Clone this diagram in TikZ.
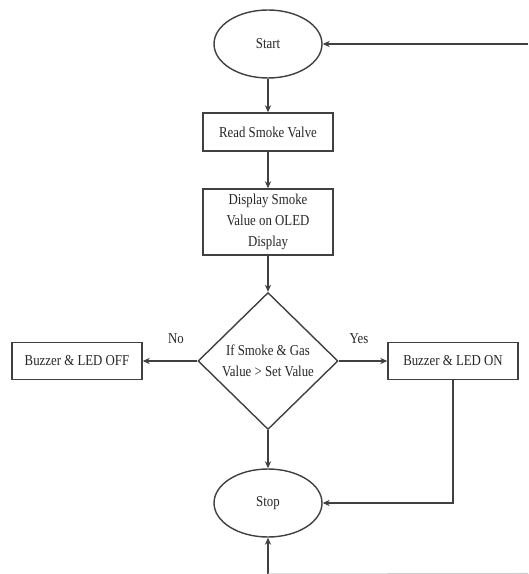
\documentclass[tikz,border=0pt]{standalone}
\usepackage{fontspec}
\setmainfont{Liberation Serif}[FakeStretch=0.85]
\usetikzlibrary{shapes.geometric,arrows.meta}
\tikzset{
  every node/.style={font=\fontsize{8.6}{12}\selectfont, text=black!85},
  terminal/.style={draw=black!75, ellipse, line width=0.8pt, minimum width=2.16cm, minimum height=1.36cm},
  procbox/.style={draw=black!75, rectangle, line width=0.8pt, minimum width=2.6cm, align=center, inner sep=1pt},
  decide/.style={draw=black!75, diamond, line width=0.8pt, minimum width=2.8cm, minimum height=2.74cm, inner sep=0pt, align=center},
  arr/.style={-{Stealth[length=4pt,width=3.5pt]}, draw=black!75, line width=0.8pt}
}

\begin{document}
\begin{tikzpicture}[x=0.02cm, y=-0.02cm]
\useasboundingbox (0,0) rectangle (528,574);
\node[terminal] (start) at (268,44) {Start};
\node[procbox, minimum height=0.76cm] (read) at (268,132) {Read Smoke Valve};
\node[procbox, minimum height=1.32cm] (disp) at (268,222) {Display Smoke\\Value on OLED\\Display};
\node[decide] (dec) at (268,361) {If Smoke \& Gas\\Value \textgreater{} Set Value};
\node[procbox, minimum height=0.74cm] (off) at (77,361) {Buzzer \& LED OFF};
\node[procbox, minimum height=0.74cm] (on) at (453,361) {Buzzer \& LED ON};
\node[terminal] (stop) at (268,503) {Stop};
\node (no) at (176,339) {No};
\node (yes) at (359,339) {Yes};
\coordinate (loopin) at (528,44);
\coordinate (loopout) at (268,574);
\coordinate (edge) at (528,573.5);

\draw[arr] (loopin) -- (start.east);
\draw[arr] (start) -- (read);
\draw[arr] (read) -- (disp);
\draw[arr] (disp) -- (dec);
\draw[arr] (dec.west) -- (off.east);
\draw[arr] (dec.east) -- (on.west);
\draw[arr] (dec.south) -- (stop.north);
\draw[arr] (on.south) |- (stop.east);
\draw[arr] (loopout) -- (stop.south);
\draw[black!20, line width=0.6pt] (loopout) -- (edge);
\end{tikzpicture}
\end{document}
